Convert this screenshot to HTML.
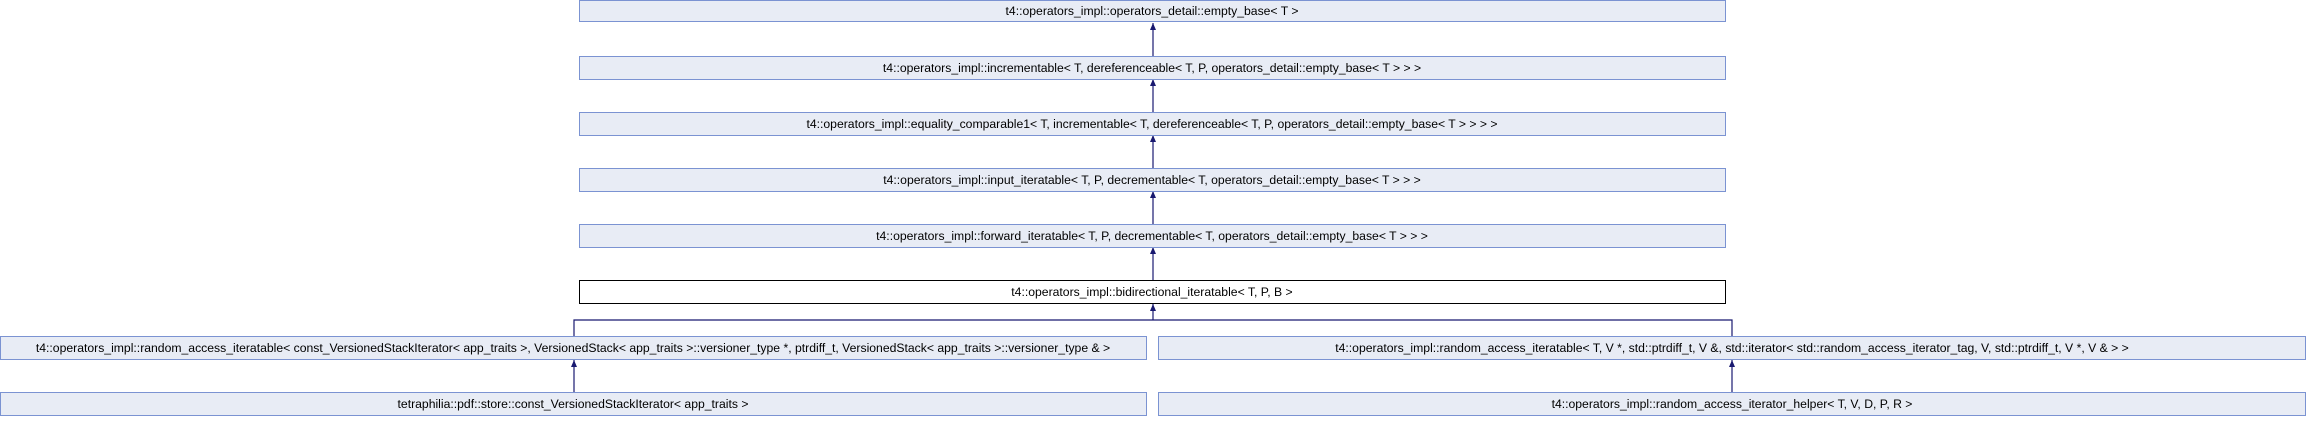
<!DOCTYPE html>
<html><head><style>
html,body{margin:0;padding:0;background:#fff;}
svg text{font-family:"Liberation Sans",sans-serif;font-size:12.2px;fill:#000;}
</style></head><body>
<svg width="2306" height="416" xmlns="http://www.w3.org/2000/svg">
<defs>
<marker id="a" markerWidth="6" markerHeight="8" refX="3" refY="0" orient="0" markerUnits="userSpaceOnUse"><path d="M0,7 L3,0 L6,7 Z" fill="#191970"/></marker>
</defs>
<g stroke="#191970" stroke-width="1.2" fill="none">
<line x1="1153" y1="56" x2="1153" y2="23" marker-end="url(#a)"/>
<line x1="1153" y1="112" x2="1153" y2="79" marker-end="url(#a)"/>
<line x1="1153" y1="168" x2="1153" y2="135" marker-end="url(#a)"/>
<line x1="1153" y1="224" x2="1153" y2="191" marker-end="url(#a)"/>
<line x1="1153" y1="280" x2="1153" y2="247" marker-end="url(#a)"/>
<line x1="1153" y1="320" x2="1153" y2="304" marker-end="url(#a)"/>
<polyline points="574,336 574,320 1732,320 1732,336"/>
<line x1="574" y1="392" x2="574" y2="360" marker-end="url(#a)"/>
<line x1="1732" y1="392" x2="1732" y2="360" marker-end="url(#a)"/>
</g>
<g stroke="#7b93d2" stroke-width="1" fill="#e8ecf5">
<rect x="579.5" y="0.5" width="1146" height="21"/>
<rect x="579.5" y="56.5" width="1146" height="23"/>
<rect x="579.5" y="112.5" width="1146" height="23"/>
<rect x="579.5" y="168.5" width="1146" height="23"/>
<rect x="579.5" y="224.5" width="1146" height="23"/>
<rect x="0.5" y="336.5" width="1146" height="23"/>
<rect x="1158.5" y="336.5" width="1147" height="23"/>
<rect x="0.5" y="392.5" width="1146" height="23"/>
<rect x="1158.5" y="392.5" width="1147" height="23"/>
</g>
<rect x="579.5" y="280.5" width="1146" height="23" fill="#fff" stroke="#000" stroke-width="1"/>
<g text-anchor="middle">
<text x="1152" y="15">t4::operators_impl::operators_detail::empty_base&lt; T &gt;</text>
<text x="1152" y="72">t4::operators_impl::incrementable&lt; T, dereferenceable&lt; T, P, operators_detail::empty_base&lt; T &gt; &gt; &gt;</text>
<text x="1152" y="128">t4::operators_impl::equality_comparable1&lt; T, incrementable&lt; T, dereferenceable&lt; T, P, operators_detail::empty_base&lt; T &gt; &gt; &gt; &gt;</text>
<text x="1152" y="184">t4::operators_impl::input_iteratable&lt; T, P, decrementable&lt; T, operators_detail::empty_base&lt; T &gt; &gt; &gt;</text>
<text x="1152" y="240">t4::operators_impl::forward_iteratable&lt; T, P, decrementable&lt; T, operators_detail::empty_base&lt; T &gt; &gt; &gt;</text>
<text x="1152" y="296">t4::operators_impl::bidirectional_iteratable&lt; T, P, B &gt;</text>
<text x="573" y="352">t4::operators_impl::random_access_iteratable&lt; const_VersionedStackIterator&lt; app_traits &gt;, VersionedStack&lt; app_traits &gt;::versioner_type *, ptrdiff_t, VersionedStack&lt; app_traits &gt;::versioner_type &amp; &gt;</text>
<text x="1732" y="352">t4::operators_impl::random_access_iteratable&lt; T, V *, std::ptrdiff_t, V &amp;, std::iterator&lt; std::random_access_iterator_tag, V, std::ptrdiff_t, V *, V &amp; &gt; &gt;</text>
<text x="573" y="408">tetraphilia::pdf::store::const_VersionedStackIterator&lt; app_traits &gt;</text>
<text x="1732" y="408">t4::operators_impl::random_access_iterator_helper&lt; T, V, D, P, R &gt;</text>
</g>
</svg>
</body></html>
